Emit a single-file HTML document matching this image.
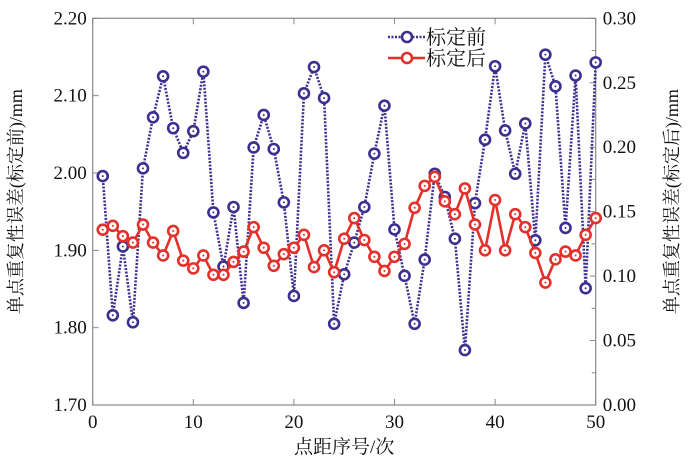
<!DOCTYPE html>
<html><head><meta charset="utf-8"><style>
body{margin:0;background:#fff;width:700px;height:466px;overflow:hidden}
svg text{font-family:"Liberation Serif","Noto Serif CJK SC",serif;fill:#111}
</style></head><body>
<svg id="chart" width="700" height="466"></svg>
<script>
const xTicks=[0,10,20,30,40,50];
const leftTicks=[1.70,1.80,1.90,2.00,2.10,2.20];
const rightTicks=[0.00,0.05,0.10,0.15,0.20,0.25,0.30];
const before=[1.996,1.816,1.905,1.807,2.006,2.072,2.125,2.058,2.026,2.054,2.131,1.949,1.879,1.956,1.832,2.033,2.075,2.031,1.962,1.841,2.103,2.137,2.097,1.805,1.869,1.910,1.956,2.025,2.087,1.927,1.867,1.805,1.888,1.999,1.969,1.915,1.771,1.961,2.043,2.138,2.055,1.999,2.064,1.913,2.153,2.112,1.929,2.126,1.851,2.143];
const after=[0.136,0.139,0.131,0.126,0.140,0.126,0.116,0.135,0.112,0.106,0.116,0.101,0.101,0.111,0.119,0.138,0.122,0.108,0.117,0.122,0.132,0.107,0.120,0.103,0.129,0.145,0.128,0.115,0.104,0.115,0.125,0.153,0.170,0.177,0.158,0.148,0.168,0.140,0.120,0.159,0.120,0.148,0.138,0.118,0.095,0.113,0.119,0.116,0.132,0.145];

const NS="http://www.w3.org/2000/svg";
const svg=document.getElementById('chart');
const L=92.7,R=595.7,T=18.3,B=405;
const xs=v=>L+(v-0)/50*(R-L);
const yl=v=>B-(v-1.7)/0.5*(B-T);
const yr=v=>B-v/0.3*(B-T);
function el(tag,attrs,parent){const e=document.createElementNS(NS,tag);for(const k in attrs)e.setAttribute(k,attrs[k]);(parent||svg).appendChild(e);return e;}

const frame=el('rect',{x:L,y:T,width:R-L,height:B-T,fill:'none',stroke:'#888','stroke-width':1.2});



xTicks.forEach(v=>{
  const x=xs(v);
  el('line',{x1:x,y1:B,x2:x,y2:B-6,stroke:'#888'});
  el('line',{x1:x,y1:T,x2:x,y2:T+6,stroke:'#888'});
  const t=el('text',{x:x,y:B+23,'font-size':19,'text-anchor':'middle'});t.textContent=v;
  
  
});
leftTicks.forEach(v=>{
  const y=yl(v);
  el('line',{x1:L,y1:y,x2:L+6,y2:y,stroke:'#888'});
  const t=el('text',{x:L-6,y:y+6,'font-size':19,'text-anchor':'end'});t.textContent=v.toFixed(2);
  
  
});
rightTicks.forEach((v,i)=>{
  const y=yr(v);
  el('line',{x1:R,y1:y,x2:R-6,y2:y,stroke:'#888'});
  if(i<rightTicks.length-1){const ym=yr(v+0.025);el('line',{x1:R,y1:ym,x2:R-4,y2:ym,stroke:'#888'});}
  const t=el('text',{x:R+7,y:y+6,'font-size':19,'text-anchor':'start'});t.textContent=v.toFixed(2);
  
  
});

const xt=el('text',{x:(L+R)/2,y:453,'font-size':19,'text-anchor':'middle'});xt.textContent='点距序号/次';


const lt=el('text',{x:0,y:0,'font-size':18,'text-anchor':'middle',transform:`translate(22,${(T+B)/2-10}) rotate(-90)`});lt.textContent='单点重复性误差(标定前)/mm';


const rt=el('text',{x:0,y:0,'font-size':18,'text-anchor':'middle',transform:`translate(678,${(T+B)/2-10}) rotate(-90)`});rt.textContent='单点重复性误差(标定后)/mm';



const BLUE='#3b2f8f',RED='#e3302a';
function series(data,yf,color,dash,name){
  const g=el('g',{});
  
  
  const pts=data.map((v,i)=>xs(i+1)+','+yf(v)).join(' ');
  el('polyline',{points:pts,fill:'none',stroke:color,'stroke-width':2.6,'stroke-dasharray':dash||'none'},g);
  data.forEach((v,i)=>{
    const c=el('circle',{cx:xs(i+1),cy:yf(v),r:5,fill:'#fff',stroke:color,'stroke-width':2.6},g);
    
    
    el('circle',{cx:xs(i+1),cy:yf(v),r:1,fill:color},g);
  });
}
series(before,yl,BLUE,'2 1.5','series-before');
series(after,yr,RED,null,'series-after');

const lg=el('g',{});


el('line',{x1:388,y1:37,x2:425,y2:37,stroke:BLUE,'stroke-width':2.6,'stroke-dasharray':'2 1.5'},lg);
el('circle',{cx:407,cy:37,r:5,fill:'#fff',stroke:BLUE,'stroke-width':2.6},lg);
el('line',{x1:388,y1:58,x2:425,y2:58,stroke:RED,'stroke-width':2.6},lg);
el('circle',{cx:407,cy:58,r:5,fill:'#fff',stroke:RED,'stroke-width':2.6},lg);
const l1=el('text',{x:426,y:44,'font-size':20},lg);l1.textContent='标定前';


const l2=el('text',{x:426,y:65,'font-size':20},lg);l2.textContent='标定后';


</script>
</body></html>
